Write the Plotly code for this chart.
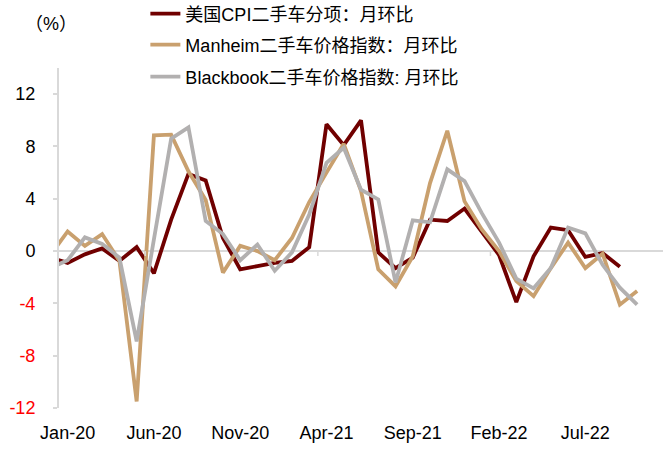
import plotly.graph_objects as go

# Months (Dec-19 is only partly visible at the left edge)
months = ["Dec-19",
          "Jan-20", "Feb-20", "Mar-20", "Apr-20", "May-20", "Jun-20", "Jul-20", "Aug-20", "Sep-20", "Oct-20", "Nov-20", "Dec-20",
          "Jan-21", "Feb-21", "Mar-21", "Apr-21", "May-21", "Jun-21", "Jul-21", "Aug-21", "Sep-21", "Oct-21", "Nov-21", "Dec-21",
          "Jan-22", "Feb-22", "Mar-22", "Apr-22", "May-22", "Jun-22", "Jul-22", "Aug-22", "Sep-22", "Oct-22", "Nov-22"]

cpi_used = [-0.5, -0.9, -0.25, 0.2, -0.75, 0.3, -1.7, 2.4, 5.9, 5.4, 1.0, -1.4,
            -1.15, -0.9, -0.75, 0.3, 9.7, 8.1, 10.0, -0.1, -1.3, -0.5, 2.4, 2.3,
            3.25, 1.5, -0.3, -3.9, -0.4, 1.8, 1.6, -0.45, -0.15, -1.2, None, None]

manheim = [-0.3, 1.5, 0.4, 1.3, -0.75, -11.5, 8.85, 8.9, 6.1, 3.9, -1.65, 0.4,
           0.0, -0.7, 1.0, 3.75, 6.0, 8.2, 4.6, -1.4, -2.7, -0.4, 5.2, 9.2,
           3.8, 1.65, 0.0, -2.3, -3.45, -1.3, 0.65, -1.3, -0.2, -4.1, -3.05, None]

blackbook = [-1.3, -0.7, 1.05, 0.55, -0.5, -6.9, 0.9, 8.6, 9.45, 2.3, 1.3, -0.7,
             0.5, -1.5, -0.1, 2.8, 6.75, 7.9, 4.7, 3.95, -2.4, 2.35, 2.2, 6.25,
             5.35, 2.9, 0.65, -2.1, -2.85, -1.3, 1.8, 1.35, -1.05, -2.8, -4.1, None]

x_ticks = ["Jan-20", "Jun-20", "Nov-20", "Apr-21", "Sep-21", "Feb-22", "Jul-22"]
y_ticks = [-12, -8, -4, 0, 4, 8, 12]

names = ["美国CPI二手车分项：月环比", "Manheim二手车价格指数：月环比", "Blackbook二手车价格指数: 月环比"]
colors = ["#700000", "#C9A06E", "#B2B0B0"]

FONT = "Liberation Sans, Arial, Noto Sans CJK SC, sans-serif"

fig = go.Figure()
for i, (nm, vals, col) in enumerate(zip(names, [cpi_used, manheim, blackbook], colors)):
    fig.add_trace(go.Scatter(
        x=months, y=vals, mode="lines", name=nm,
        line=dict(color=col, width=3.8),
        connectgaps=False,
        legend="legend" if i == 0 else f"legend{i+1}",
    ))

ytext = [f"<span style='color:#FF0000'>{v}</span>" if v < 0 else str(v) for v in y_ticks]

leg_common = dict(xanchor="left", yanchor="middle", bgcolor="rgba(0,0,0,0)",
                  font=dict(family=FONT, size=18, color="#000000"))

# small boundary tick marks on the zero line
shapes = []
for b in [5.5, 15.5, 25.5]:
    shapes.append(dict(type="line", xref="x", yref="y", x0=b, x1=b, y0=0, y1=-0.38,
                       line=dict(color="#D9D9D9", width=1.5)))

fig.update_layout(
    width=664, height=452,
    margin=dict(l=59, r=1, t=68, b=44, autoexpand=False),
    paper_bgcolor="white", plot_bgcolor="white",
    font=dict(family=FONT, size=18, color="#000000"),
    showlegend=True,
    legend=dict(x=0.143, y=1.159, **leg_common),
    legend2=dict(x=0.143, y=1.068, **leg_common),
    legend3=dict(x=0.143, y=0.974, **leg_common),
    xaxis=dict(type="category", categoryorder="array", categoryarray=months,
               range=[0.5, 35.5], tickmode="array", tickvals=x_ticks, ticktext=x_ticks,
               showgrid=False, zeroline=False, showline=False, ticks="",
               ticklabelstandoff=12, automargin=False,
               tickfont=dict(family=FONT, size=18, color="#000000")),
    yaxis=dict(range=[-12, 14], tickmode="array", tickvals=y_ticks, ticktext=ytext,
               showgrid=False, zeroline=True, zerolinecolor="#D9D9D9", zerolinewidth=2,
               showline=True, linecolor="#D9D9D9", linewidth=2,
               ticks="outside", ticklen=4, tickcolor="#D9D9D9", tickwidth=1.5,
               ticklabelstandoff=14, automargin=False,
               tickfont=dict(family=FONT, size=18, color="#000000")),
    shapes=shapes,
    annotations=[dict(text="（%）", xref="paper", yref="paper", x=-0.013, y=1.129,
                      xanchor="center", yanchor="middle", showarrow=False,
                      font=dict(family=FONT, size=18, color="#000000"))],
)

fig.write_html("out.html", config={"displayModeBar": False},
               post_script="document.body.style.margin='0';document.body.style.padding='0';")
